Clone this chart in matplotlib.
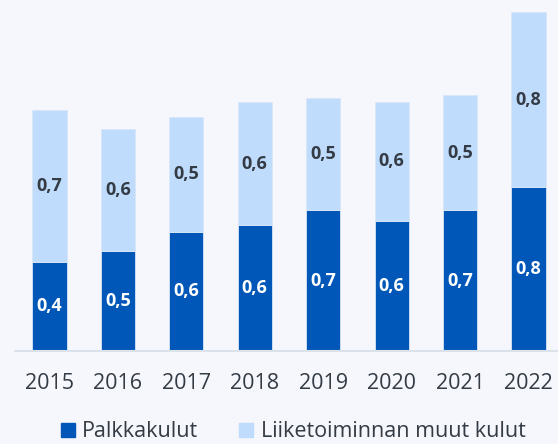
import numpy as np
import matplotlib
matplotlib.use("Agg")
import matplotlib.pyplot as plt
from matplotlib.patches import Patch

# data
years = ["2015", "2016", "2017", "2018", "2019", "2020", "2021", "2022"]
palkkakulut = [0.42, 0.47, 0.56, 0.59, 0.66, 0.61, 0.66, 0.77]
muut_kulut = [0.71, 0.57, 0.54, 0.58, 0.53, 0.56, 0.54, 0.82]
series_names = ["Palkkakulut", "Liiketoiminnan muut kulut"]

bg = "#f5f7fc"
dark = "#0057b8"
light = "#bfdcfd"
text_col = "#343b44"

plt.rcParams['font.family'] = ['Open Sans', 'DejaVu Sans']

fig = plt.figure(figsize=(5.58, 4.44), dpi=100, facecolor=bg)
ax = fig.add_axes([15/558, 93/444, 543/558, 351/444], facecolor=bg)

x = np.arange(len(years))
w = 0.5
ax.bar(x, palkkakulut, width=w, color=dark, edgecolor="#d8e6f7", linewidth=0.6)
ax.bar(x, muut_kulut, width=w, bottom=palkkakulut, color=light, edgecolor="#d8e6f7", linewidth=0.6)

def fmt(v):
    return f"{v:.1f}".replace(".", ",")

for i in x:
    ax.text(i, palkkakulut[i] / 2, fmt(palkkakulut[i]), ha="center", va="center",
            color="white", fontsize=13, fontweight="bold")
    ax.text(i, palkkakulut[i] + muut_kulut[i] / 2, fmt(muut_kulut[i]), ha="center", va="center",
            color=text_col, fontsize=13, fontweight="bold")

ax.set_xlim(-0.504, 7.43)
ax.set_ylim(0, 1.648)
for s in ["top", "right", "left"]:
    ax.spines[s].set_visible(False)
ax.spines["bottom"].set_color("#dce2e9")
ax.spines["bottom"].set_linewidth(1.5)
ax.set_yticks([])
ax.set_xticks(x)
ax.set_xticklabels(years, fontsize=15.5, color=text_col)
ax.tick_params(axis="x", length=0, pad=16)

handles = [Patch(color=dark), Patch(color=light)]
fig.legend(handles, series_names, loc="lower center", bbox_to_anchor=(293/558, -0.04),
           ncol=2, frameon=False, fontsize=15.5, labelcolor=text_col,
           handlelength=0.65, handleheight=0.65, handletextpad=0.35, columnspacing=1.9)

fig.savefig("out.png", dpi=100, facecolor=bg)
